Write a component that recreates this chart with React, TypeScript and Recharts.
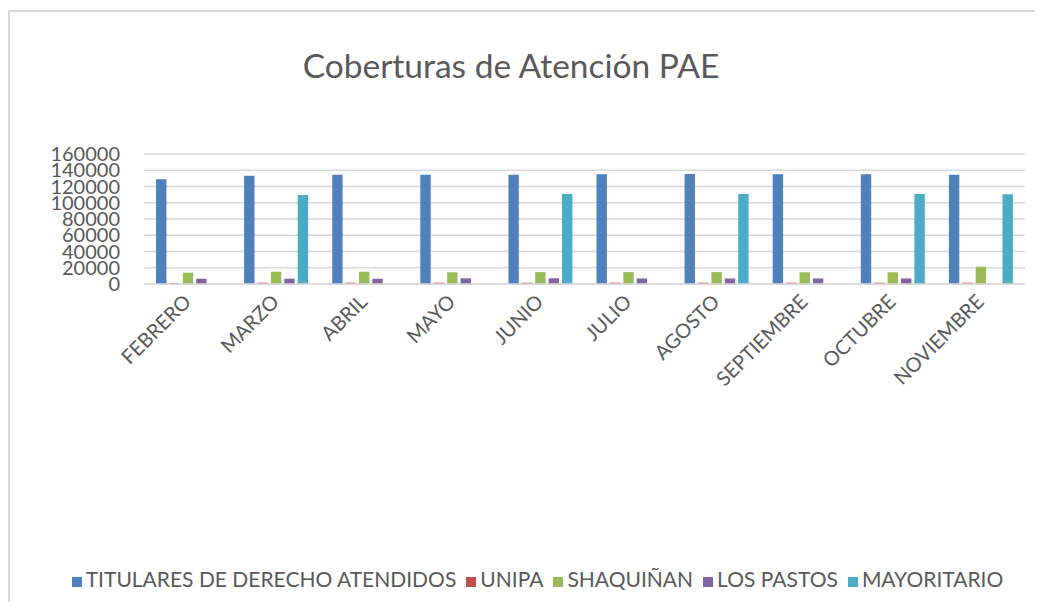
import { Bar, BarChart, CartesianGrid, Legend, XAxis, YAxis } from 'recharts'

// Months shown on the category axis
const months = ['FEBRERO', 'MARZO', 'ABRIL', 'MAYO', 'JUNIO', 'JULIO', 'AGOSTO', 'SEPTIEMBRE', 'OCTUBRE', 'NOVIEMBRE']

// Series values
const titulares = [129000, 133300, 134500, 134600, 134600, 135000, 135500, 135000, 135000, 134500]
const unipa = [1200, 1600, 1600, 1600, 1600, 1600, 1600, 1600, 1600, 1600]
const shaquinan = [13900, 15100, 15100, 14400, 14700, 14700, 14700, 14400, 14400, 21300]
const losPastos = [6500, 6500, 6500, 7000, 7000, 6800, 6800, 6800, 6800, 0]
const mayoritario = [0, 109500, 0, 0, 110800, 0, 110800, 0, 110800, 110500]

const yTicks = [0, 20000, 40000, 60000, 80000, 100000, 120000, 140000, 160000]

// legend order as in the source chart
const seriesOrder = ['TITULARES DE DERECHO ATENDIDOS', 'UNIPA', 'SHAQUIÑAN', 'LOS PASTOS', 'MAYORITARIO']

const data = months.map((month, i) => ({
  month,
  titulares: titulares[i],
  unipa: unipa[i],
  shaquinan: shaquinan[i],
  losPastos: losPastos[i],
  mayoritario: mayoritario[i]
}))

const FONT = 'Lato, "Open Sans", sans-serif'
const TEXT = '#595959'

const MonthTick = ({ x, y, payload }: { x: number; y: number; payload: { value: string } }) => {
  const ax = x - 6
  const ay = y + 7
  return (
    <text
      x={ax}
      y={ay}
      dy="0.72em"
      textAnchor="end"
      transform={`rotate(-45 ${ax} ${ay})`}
      fill={TEXT}
      fontSize={20}
      fontFamily={FONT}
    >
      {payload.value}
    </text>
  )
}

export default function App() {
  return (
    <div
      style={{
        position: 'relative',
        marginTop: 2,
        borderTop: '2px solid #D9D9D9',
        borderLeft: '2px solid #D9D9D9',
        width: 1025,
        height: 590,
        fontFamily: FONT
      }}
    >
      <div
        style={{
          position: 'absolute',
          top: 33,
          left: 0,
          width: 1002,
          textAlign: 'center',
          fontSize: 33.5,
          lineHeight: '40px',
          color: TEXT
        }}
      >
        Coberturas de Atención PAE
      </div>
      <BarChart
        width={1025}
        height={590}
        data={data}
        margin={{ top: 142, right: 10, left: 0, bottom: 0 }}
        barSize={10.4}
        barGap={3}
      >
        <CartesianGrid vertical={false} stroke="#D9D9D9" strokeWidth={1.5} />
        <XAxis
          dataKey="month"
          interval={0}
          height={293}
          tickLine={false}
          tickSize={0}
          axisLine={{ stroke: '#D9D9D9', strokeWidth: 1.5 }}
          tick={MonthTick}
        />
        <YAxis
          width={134}
          domain={[0, 160000]}
          ticks={yTicks}
          interval={0}
          axisLine={false}
          tickLine={false}
          tickSize={0}
          tickMargin={24}
          tick={{ fill: TEXT, fontSize: 20, fontFamily: FONT }}
        />
        <Legend
          verticalAlign="bottom"
          align="center"
          iconType="square"
          iconSize={10}
          itemSorter={(item: { value: string }) => seriesOrder.indexOf(item.value)}
          wrapperStyle={{
            top: 554,
            bottom: 'auto',
            left: 0,
            width: 1025,
            paddingLeft: 40,
            boxSizing: 'border-box',
            fontFamily: FONT,
            fontSize: 21
          }}
          formatter={(value: string) => <span style={{ color: TEXT }}>{value}</span>}
        />
        <Bar dataKey="titulares" name="TITULARES DE DERECHO ATENDIDOS" fill="#4F81BD" isAnimationActive={false} />
        <Bar dataKey="unipa" name="UNIPA" fill="#C0504D" isAnimationActive={false} />
        <Bar dataKey="shaquinan" name="SHAQUIÑAN" fill="#9BBB59" isAnimationActive={false} />
        <Bar dataKey="losPastos" name="LOS PASTOS" fill="#8064A2" isAnimationActive={false} />
        <Bar dataKey="mayoritario" name="MAYORITARIO" fill="#4BACC6" isAnimationActive={false} />
      </BarChart>
    </div>
  )
}
